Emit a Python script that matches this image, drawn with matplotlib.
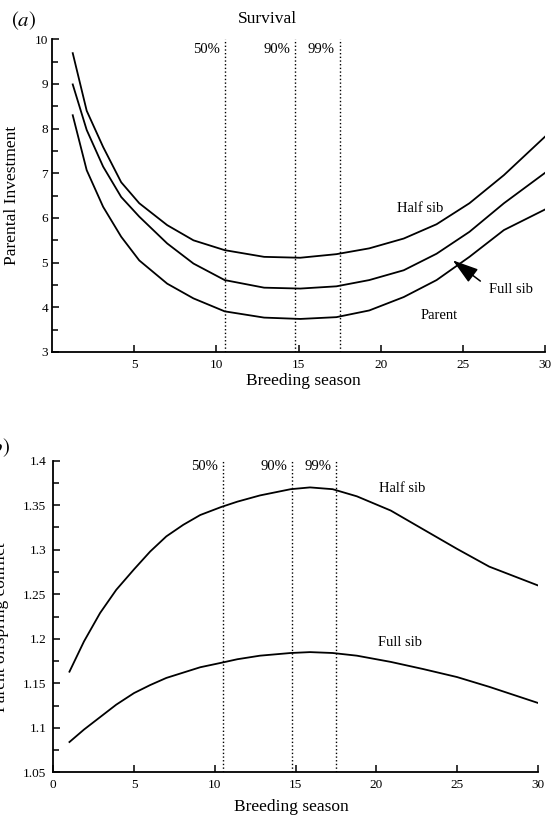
import numpy as np
import matplotlib.pyplot as plt

plt.rcParams['font.family'] = ['Liberation Serif', 'DejaVu Serif']
plt.rcParams['mathtext.fontset'] = 'stix'

# panel (a): parental investment against breeding season
xa = [1.25, 2.1, 3.1, 4.2, 5.3, 7.0, 8.6, 10.5, 12.9, 15.1, 17.3, 19.3, 21.4, 23.4, 25.4, 27.5, 30.0]
half_a = [9.69, 8.40, 7.59, 6.80, 6.33, 5.84, 5.50, 5.28, 5.13, 5.11, 5.19, 5.32, 5.54, 5.86, 6.33, 6.96, 7.82]
full_a = [8.99, 7.97, 7.15, 6.47, 6.03, 5.43, 4.98, 4.61, 4.44, 4.42, 4.47, 4.61, 4.83, 5.20, 5.69, 6.33, 7.01]
parent_a = [8.30, 7.07, 6.25, 5.58, 5.05, 4.53, 4.20, 3.91, 3.77, 3.74, 3.78, 3.93, 4.23, 4.61, 5.13, 5.73, 6.19]

# panel (b): parent offspring conflict
xb = [1.0, 1.9, 2.9, 3.9, 5.0, 6.0, 7.0, 8.05, 9.1, 10.4, 11.4, 12.8, 14.7, 15.9, 17.3, 18.8, 20.9, 22.9, 25.0, 27.0, 30.0]
half_b = [1.163, 1.197, 1.229, 1.255, 1.278, 1.298, 1.315, 1.328, 1.339, 1.348, 1.354, 1.361, 1.368, 1.370, 1.368,
          1.360, 1.344, 1.323, 1.301, 1.281, 1.260]
full_b = [1.084, 1.098, 1.112, 1.126, 1.139, 1.148, 1.156, 1.162, 1.168, 1.173, 1.177, 1.181, 1.184, 1.185, 1.184,
          1.181, 1.174, 1.166, 1.157, 1.146, 1.128]

survival = [10.5, 14.8, 17.5]
survival_lab = ['50%', '90%', '99%']

fig = plt.figure(figsize=(5.53, 8.15), dpi=100)
W, H = 553, 815

def setup(ax):
    for s in ['top', 'right']:
        ax.spines[s].set_visible(False)
    for s in ['left', 'bottom']:
        ax.spines[s].set_linewidth(1.3)
    ax.tick_params(which='both', direction='in', width=1.1, labelsize=9.5)
    ax.tick_params(which='major', length=5)
    ax.tick_params(which='minor', length=4)
    ax.tick_params(axis='x', pad=5)
    ax.set_xlabel('Breeding season', fontsize=12.5, va='center')

# ---------- (a)
ax1 = fig.add_axes([52.2/W, 1-352/H, (545-52.2)/W, (352-39.3)/H])
setup(ax1)
ax1.plot(xa, half_a, color='black', lw=1.3)
ax1.plot(xa, full_a, color='black', lw=1.3)
ax1.plot(xa, parent_a, color='black', lw=1.3)
for xv, lab in zip(survival, survival_lab):
    ax1.axvline(xv, color='black', lw=1.0, ls=':')
    ax1.text(xv-0.3, 9.78, lab, ha='right', va='center', fontsize=10.5)
ax1.set_xlim(0, 30)
ax1.set_ylim(3, 10)
ax1.set_xticks([5, 10, 15, 20, 25, 30])
ax1.set_yticks(range(3, 11))
ax1.set_yticks(np.arange(3, 10.01, 0.5), minor=True)
ax1.tick_params(axis='y', pad=3)
ax1.set_ylabel('Parental Investment', fontsize=12.5)
ax1.yaxis.set_label_coords(-0.065, 0.5)
ax1.xaxis.set_label_coords(0.509, -0.093)
ax1.text(13.1, 1.064, 'Survival', transform=ax1.get_xaxis_transform(), ha='center', va='center', fontsize=12.5)
ax1.text(22.4, 6.22, 'Half sib', ha='center', va='center', fontsize=10.5)
ax1.text(27.9, 4.40, 'Full sib', ha='center', va='center', fontsize=10.5)
ax1.text(23.56, 3.82, 'Parent', ha='center', va='center', fontsize=10.5)
ax1.annotate('', xy=(24.25, 5.09), xytext=(26.2, 4.55),
             arrowprops=dict(arrowstyle='-|>,head_length=1.6,head_width=0.5', color='black', lw=1.1))
fig.text(11/W, 1-21/H, r'$(a)$', ha='left', va='center', fontsize=15)

# ---------- (b)
ax2 = fig.add_axes([53.3/W, 1-772.3/H, (537.7-53.3)/W, (772.3-460.7)/H])
setup(ax2)
ax2.plot(xb, half_b, color='black', lw=1.3)
ax2.plot(xb, full_b, color='black', lw=1.3)
for xv, lab in zip(survival, survival_lab):
    ax2.axvline(xv, color='black', lw=1.0, ls=':')
    ax2.text(xv-0.3, 1.393, lab, ha='right', va='center', fontsize=10.5)
ax2.set_xlim(0, 30)
ax2.set_ylim(1.05, 1.4)
ax2.set_xticks([0, 5, 10, 15, 20, 25, 30])
ax2.set_yticks([1.05, 1.1, 1.15, 1.2, 1.25, 1.3, 1.35, 1.4])
ax2.set_yticklabels(['1.05', '1.1', '1.15', '1.2', '1.25', '1.3', '1.35', '1.4'])
ax2.set_yticks(np.arange(1.05, 1.401, 0.025), minor=True)
ax2.tick_params(axis='y', pad=5)
ax2.xaxis.set_label_coords(0.492, -0.110)
ax2.text(21.6, 1.369, 'Half sib', ha='center', va='center', fontsize=10.5)
ax2.text(21.5, 1.196, 'Full sib', ha='center', va='center', fontsize=10.5)
# cut at the left edge as in the scanned original
fig.text(1/W, 1-627/H, 'Parent offspring conflict', rotation=90, ha='center', va='center', fontsize=12.5)
fig.text(10/W, 1-448/H, r'$(b)$', ha='right', va='center', fontsize=15)

plt.savefig('out.png', dpi=100)
